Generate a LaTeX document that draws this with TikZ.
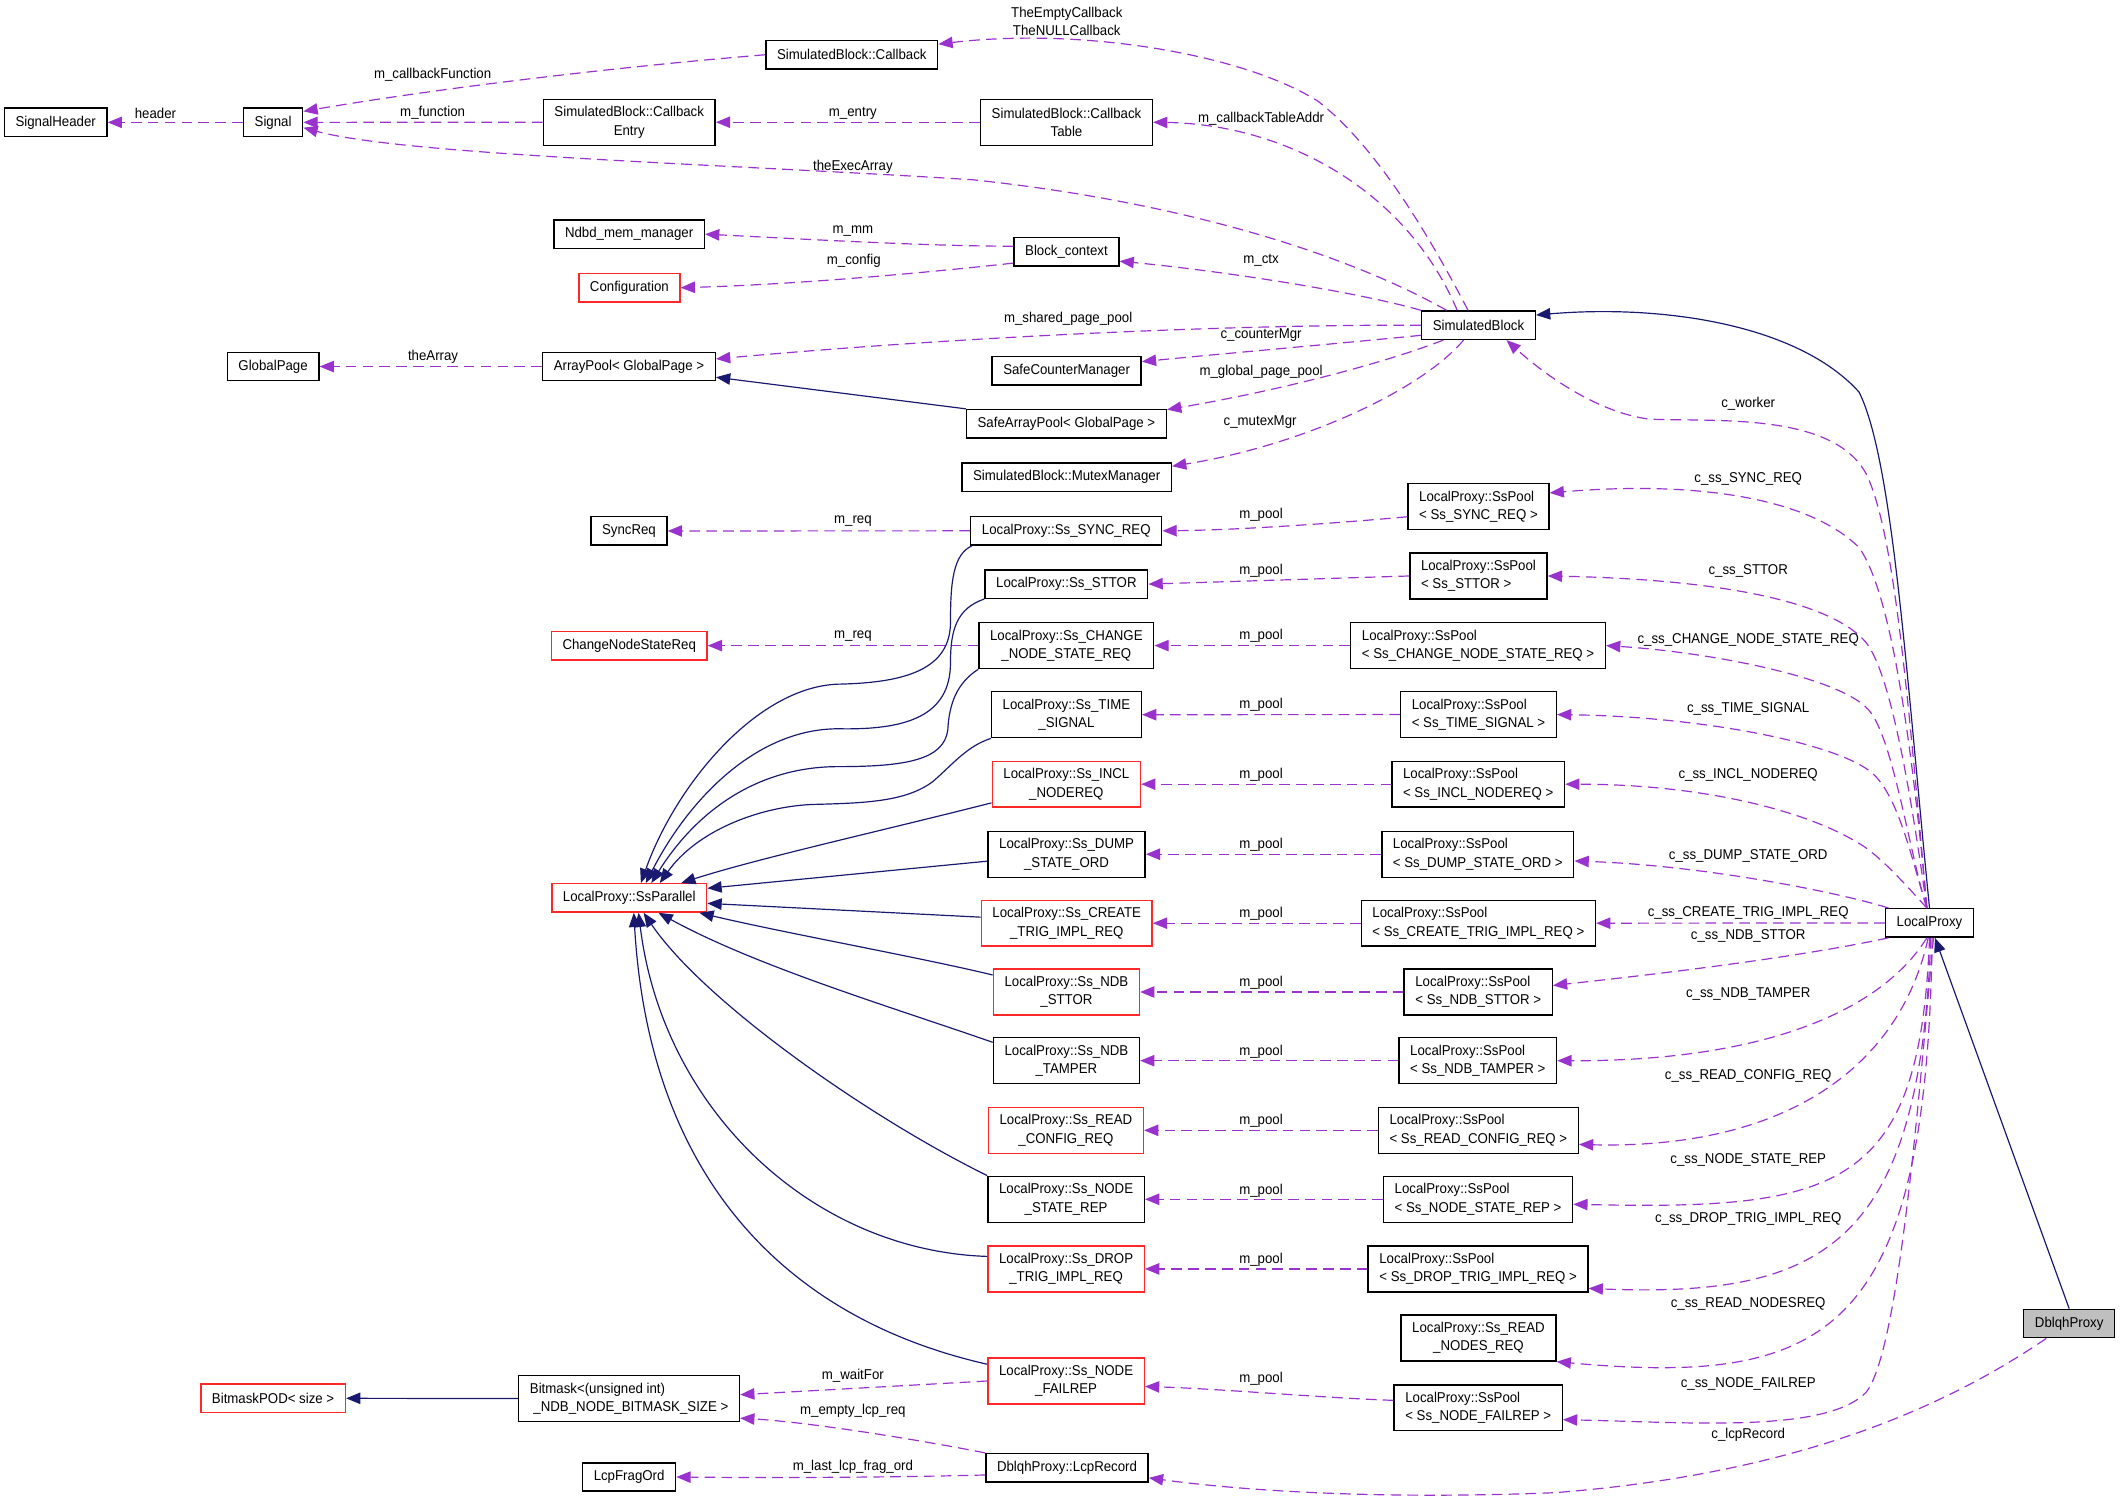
\documentclass[tikz,border=0pt]{standalone}
\usepackage{fontspec}
\setmainfont[FakeStretch=0.93]{Liberation Sans}
\usetikzlibrary{arrows.meta}
\definecolor{edgepurple}{RGB}{154,50,205}
\definecolor{edgenavy}{RGB}{25,25,112}
\definecolor{boxred}{RGB}{255,40,40}
\definecolor{boxgray}{RGB}{191,191,191}

\begin{document}
\begin{tikzpicture}[x=0.02cm, y=-0.02cm,
  cls/.style={draw=black, line width=0.6pt, fill=white, font=\fontsize{6}{7.7}\selectfont, inner xsep=0.165cm, inner ysep=0.1cm, minimum height=0.42cm},
  clsred/.style={cls, draw=boxred},
  dbl/.style={minimum height=0.68cm, align=center},
  dbll/.style={minimum height=0.68cm, align=left},
  member/.style={draw=edgepurple, line width=0.5pt, dash pattern=on 4.5pt off 2.6pt, -{Triangle[length=6pt,width=4.8pt]}},
  inherit/.style={draw=edgenavy, line width=0.5pt, -{Triangle[length=6pt,width=4.8pt]}},
  lbl/.style={font=\fontsize{6}{7.5}\selectfont, inner sep=0pt, align=center}]
\useasboundingbox (0,0) rectangle (1568,1110);

\node[cls] (sigHeader) at (41.2,90.5) {SignalHeader};
\node[cls] (signal) at (202,90.5) {Signal};
\node[cls, dbl] (cbEntry) at (465.4,90.4) {SimulatedBlock::Callback\\Entry};
\node[cls] (callback) at (630,40.5) {SimulatedBlock::Callback};
\node[cls, dbl] (cbTable) at (788.8,90.4) {SimulatedBlock::Callback\\Table};
\node[cls] (memMgr) at (465.3,173.2) {Ndbd\_mem\_manager};
\node[clsred] (config) at (465.5,212.8) {Configuration};
\node[cls] (blockCtx) at (788.75,186.25) {Block\_context};
\node[cls] (globalPage) at (202,271.1) {GlobalPage};
\node[cls] (arrayPool) at (465.2,271.1) {ArrayPool< GlobalPage >};
\node[cls] (safeCounter) at (788.9,274.3) {SafeCounterManager};
\node[cls] (safeArrayPool) at (788.75,313.4) {SafeArrayPool< GlobalPage >};
\node[cls] (mutexMgr) at (788.9,353) {SimulatedBlock::MutexManager};
\node[cls] (simBlock) at (1093.5,240.5) {SimulatedBlock};
\node[cls] (syncReq) at (465.2,392.7) {SyncReq};
\node[clsred] (chgReq) at (465.4,477.5) {ChangeNodeStateReq};
\node[clsred] (ssParallel) at (465.4,664.1) {LocalProxy::SsParallel};
\node[clsred] (bmPOD) at (202,1034.2) {BitmaskPOD< size >};
\node[cls, dbll] (bitmask) at (465.3,1034.4) {Bitmask<(unsigned int)\\\hspace{1.5pt}\_NDB\_NODE\_BITMASK\_SIZE >};
\node[cls] (lcpFragOrd) at (465.3,1092.4) {LcpFragOrd};
\node[cls] (lcpRecord) at (789.2,1085.6) {DblqhProxy::LcpRecord};
\node[cls] (localProxy) at (1427.1,682.6) {LocalProxy};
\node[cls, fill=boxgray] (dblqh) at (1530.4,978.9) {DblqhProxy};

\node[cls] (ssSync) at (788.6,392.6) {LocalProxy::Ss\_SYNC\_REQ};
\node[cls] (ssSttor) at (788.7,432) {LocalProxy::Ss\_STTOR};
\node[cls, dbl] (ssChg) at (788.7,477.5) {LocalProxy::Ss\_CHANGE\\\_NODE\_STATE\_REQ};
\node[cls, dbl] (ssTime) at (788.75,528.6) {LocalProxy::Ss\_TIME\\\_SIGNAL};
\node[clsred, dbl] (ssIncl) at (788.7,580) {LocalProxy::Ss\_INCL\\\_NODEREQ};
\node[cls, dbl] (ssDump) at (788.85,631.8) {LocalProxy::Ss\_DUMP\\\_STATE\_ORD};
\node[clsred, dbl] (ssCreate) at (789,682.8) {LocalProxy::Ss\_CREATE\\\_TRIG\_IMPL\_REQ};
\node[clsred, dbl] (ssNdbSttor) at (788.75,733.7) {LocalProxy::Ss\_NDB\\\_STTOR};
\node[cls, dbl] (ssNdbTamper) at (788.75,784.5) {LocalProxy::Ss\_NDB\\\_TAMPER};
\node[clsred, dbl] (ssReadCfg) at (788.35,836) {LocalProxy::Ss\_READ\\\_CONFIG\_REQ};
\node[cls, dbl] (ssNodeState) at (788.5,887) {LocalProxy::Ss\_NODE\\\_STATE\_REP};
\node[clsred, dbl] (ssDrop) at (788.5,938.5) {LocalProxy::Ss\_DROP\\\_TRIG\_IMPL\_REQ};
\node[clsred, dbl] (ssNodeFail) at (788.5,1021.4) {LocalProxy::Ss\_NODE\\\_FAILREP};

\node[cls, dbll] (poolSync) at (1093.5,374.8) {LocalProxy::SsPool\\< Ss\_SYNC\_REQ >};
\node[cls, dbll] (poolSttor) at (1093.5,426) {LocalProxy::SsPool\\< Ss\_STTOR >};
\node[cls, dbll] (poolChg) at (1093.2,477.5) {LocalProxy::SsPool\\< Ss\_CHANGE\_NODE\_STATE\_REQ >};
\node[cls, dbll] (poolTime) at (1093.5,528.5) {LocalProxy::SsPool\\< Ss\_TIME\_SIGNAL >};
\node[cls, dbll] (poolIncl) at (1093.3,580) {LocalProxy::SsPool\\< Ss\_INCL\_NODEREQ >};
\node[cls, dbll] (poolDump) at (1093,631.8) {LocalProxy::SsPool\\< Ss\_DUMP\_STATE\_ORD >};
\node[cls, dbll] (poolCreate) at (1093.4,682.8) {LocalProxy::SsPool\\< Ss\_CREATE\_TRIG\_IMPL\_REQ >};
\node[cls, dbll] (poolNdbSttor) at (1093.3,733.7) {LocalProxy::SsPool\\< Ss\_NDB\_STTOR >};
\node[cls, dbll] (poolNdbTamper) at (1093,784.5) {LocalProxy::SsPool\\< Ss\_NDB\_TAMPER >};
\node[cls, dbll] (poolReadCfg) at (1093.4,836) {LocalProxy::SsPool\\< Ss\_READ\_CONFIG\_REQ >};
\node[cls, dbll] (poolNodeState) at (1093.2,887) {LocalProxy::SsPool\\< Ss\_NODE\_STATE\_REP >};
\node[cls, dbll] (poolDrop) at (1093.2,938.5) {LocalProxy::SsPool\\< Ss\_DROP\_TRIG\_IMPL\_REQ >};
\node[cls, dbl] (readNodes) at (1093.5,989.6) {LocalProxy::Ss\_READ\\\_NODES\_REQ};
\node[cls, dbll] (poolNodeFail) at (1093.3,1041.2) {LocalProxy::SsPool\\< Ss\_NODE\_FAILREP >};

\draw[member] (signal.west) -- (sigHeader.east);
\draw[member] (callback.west) .. controls (450,50) and (320,66) .. (signal.20);
\draw[member] (cbEntry.west) -- (signal.east);
\draw[member] (simBlock.155) .. controls (1000,190) and (880,150) .. (720,133) .. controls (550,122) and (300,115) .. (signal.-10);
\draw[member] (cbTable.west) -- (cbEntry.east);
\draw[member] (simBlock.145) .. controls (1040,140) and (950,92) .. (cbTable.east);
\draw[member] (simBlock.125) .. controls (1060,180) and (1020,110) .. (975,75) .. controls (920,40) and (800,20) .. (callback.7);
\draw[member] (blockCtx.174) .. controls (680,182) and (580,176) .. (memMgr.east);
\draw[member] (blockCtx.192) .. controls (700,200) and (600,210) .. (config.east);
\draw[member] (simBlock.north west) .. controls (1000,215) and (900,200) .. (blockCtx.-10);
\draw[member] (simBlock.west) .. controls (900,240) and (700,250) .. (arrayPool.5);
\draw[member] (simBlock.190) .. controls (980,255) and (900,262) .. (safeCounter.7);
\draw[member] (simBlock.203) .. controls (1020,270) and (940,290) .. (safeArrayPool.8);
\draw[member] (simBlock.225) .. controls (1050,290) and (960,330) .. (mutexMgr.6);
\draw[member] (arrayPool.west) -- (globalPage.east);
\draw[inherit] (safeArrayPool.north west) -- (arrayPool.-7);

\draw[inherit] (localProxy.north) .. controls (1410,500) and (1400,340) .. (1375,290) .. controls (1330,240) and (1230,225) .. (simBlock.10);
\draw[member] (localProxy.100) .. controls (1410,500) and (1400,390) .. (1380,350) .. controls (1355,305) and (1270,312) .. (1220,310) .. controls (1180,305) and (1140,275) .. (simBlock.-28);
\draw[inherit] (dblqh.north) -- (localProxy.-70);

\draw[member] (localProxy.100) .. controls (1415,560) and (1400,440) .. (1375,405) .. controls (1340,370) and (1260,355) .. (poolSync.11);
\draw[member] (localProxy.100) .. controls (1415,600) and (1400,500) .. (1380,475) .. controls (1350,440) and (1250,428) .. (poolSttor.east);
\draw[member] (localProxy.100) .. controls (1412,630) and (1400,545) .. (1382,525) .. controls (1360,500) and (1260,482) .. (poolChg.east);
\draw[member] (localProxy.100) .. controls (1415,640) and (1405,590) .. (1385,572) .. controls (1360,550) and (1260,530) .. (poolTime.east);
\draw[member] (localProxy.100) .. controls (1410,655) and (1395,638) .. (1380,627) .. controls (1340,600) and (1260,580) .. (poolIncl.east);
\draw[member] (localProxy.160) .. controls (1360,660) and (1260,640) .. (poolDump.-4);
\draw[member] (localProxy.west) -- (poolCreate.east);
\draw[member] (localProxy.200) .. controls (1330,708) and (1230,720) .. (poolNdbSttor.5);
\draw[member] (localProxy.-100) .. controls (1390,750) and (1300,785) .. (poolNdbTamper.east);
\draw[member] (localProxy.-95) .. controls (1405,790) and (1320,850) .. (poolReadCfg.-8);
\draw[member] (localProxy.south) .. controls (1420,880) and (1360,895) .. (poolNodeState.-3);
\draw[member] (localProxy.-85) .. controls (1420,920) and (1350,960) .. (poolDrop.-10);
\draw[member] (localProxy.-80) .. controls (1425,990) and (1350,1025) .. (readNodes.south east);
\draw[member] (localProxy.-75) .. controls (1420,800) and (1405,1000) .. (1380,1030) .. controls (1350,1060) and (1250,1052) .. (poolNodeFail.-8);
\draw[member] (dblqh.213) .. controls (1440,1040) and (1330,1090) .. (1150,1104) .. controls (1000,1110) and (900,1100) .. (lcpRecord.-7);

\draw[member] (poolSync.188) .. controls (1000,386) and (920,392) .. (ssSync.east);
\foreach \s in {Sttor,Chg,Time,Incl,Dump,Create,NdbSttor,NdbTamper,ReadCfg,NodeState,Drop}
  \draw[member] (pool\s.west) -- (ss\s.east);
\draw[member] (poolNodeFail.175) .. controls (980,1034) and (900,1027) .. (ssNodeFail.-4);
\draw[member] (ssSync.west) -- (syncReq.east);
\draw[member] (ssChg.west) -- (chgReq.east);

\draw[inherit] (ssSync.-171) .. controls (705,410) and (703,430) .. (703,460) .. controls (703,495) and (670,505) .. (620,506) .. controls (560,508) and (500,580) .. (ssParallel.52);
\draw[inherit] (ssSttor.south west) .. controls (708,450) and (703,465) .. (703,490) .. controls (703,530) and (670,540) .. (620,539) .. controls (560,539) and (510,590) .. (ssParallel.42);
\draw[inherit] (ssChg.south west) .. controls (708,505) and (702,520) .. (701,540) .. controls (698,562) and (670,567) .. (620,567) .. controls (560,567) and (515,600) .. (ssParallel.34);
\draw[inherit] (ssTime.south west) .. controls (715,552) and (705,565) .. (690,578) .. controls (670,593) and (640,594) .. (600,595) .. controls (560,597) and (515,615) .. (ssParallel.26);
\draw[inherit] (ssIncl.194) .. controls (650,615) and (560,635) .. (ssParallel.16);
\draw[inherit] (ssDump.185) -- (ssParallel.7);
\draw[inherit] (ssCreate.176) -- (ssParallel.-4);
\draw[inherit] (ssNdbSttor.167) .. controls (680,708) and (580,690) .. (ssParallel.-12);
\draw[inherit] (ssNdbTamper.166) .. controls (660,745) and (560,715) .. (ssParallel.-27);
\draw[inherit] (ssNodeState.north west) .. controls (640,825) and (520,740) .. (ssParallel.-46);
\draw[inherit] (ssDrop.171) .. controls (600,925) and (490,820) .. (ssParallel.-58);
\draw[inherit] (ssNodeFail.168) .. controls (580,975) and (480,870) .. (ssParallel.-73);

\draw[member] (ssNodeFail.west) -- (bitmask.2);
\draw[member] (lcpRecord.north west) .. controls (680,1065) and (600,1052) .. (bitmask.-10);
\draw[member] (lcpRecord.185) .. controls (650,1093) and (560,1093) .. (lcpFragOrd.east);
\draw[inherit] (bitmask.west) -- (bmPOD.east);

\node[lbl] (lHeader) at (115,83.5) {header};
\node[lbl] (lCbFunc) at (320,55.5) {m\_callbackFunction};
\node[lbl] (lFunc) at (320,83.3) {m\_function};
\node[lbl] (lExec) at (630.8,123.3) {theExecArray};
\node[lbl] (lEntry) at (630.8,83.8) {m\_entry};
\node[lbl] (lCbTable) at (932.7,87.5) {m\_callbackTableAddr};
\node[lbl] (lCallbacks) at (789,16) {TheEmptyCallback\\TheNULLCallback};
\node[lbl] (lMm) at (630.8,171) {m\_mm};
\node[lbl] (lConfig) at (631.5,193) {m\_config};
\node[lbl] (lCtx) at (932.7,192.3) {m\_ctx};
\node[lbl] (lShared) at (790,236) {m\_shared\_page\_pool};
\node[lbl] (lCounter) at (932.7,247.8) {c\_counterMgr};
\node[lbl] (lGlobal) at (932.7,275) {m\_global\_page\_pool};
\node[lbl] (lMutex) at (932,312) {c\_mutexMgr};
\node[lbl] (lArray) at (320.3,263.8) {theArray};
\node[lbl] (lWorker) at (1293,298.8) {c\_worker};
\node[lbl] (lReqSync) at (630.8,385.4) {m\_req};
\node[lbl] (lReqChg) at (630.8,470.6) {m\_req};
\foreach \yy [count=\i] in {380.8,422,470.6,521.5,573.3,624.8,675.9,726.6,777.7,828.6,880.4,931.4,1020}
  \node[lbl] (lPool\i) at (932.7,\yy) {m\_pool};
\node[lbl] (lSsSync) at (1293,354) {c\_ss\_SYNC\_REQ};
\node[lbl] (lSsSttor) at (1293,422) {c\_ss\_STTOR};
\node[lbl] (lSsChg) at (1293,473) {c\_ss\_CHANGE\_NODE\_STATE\_REQ};
\node[lbl] (lSsTime) at (1293,524) {c\_ss\_TIME\_SIGNAL};
\node[lbl] (lSsIncl) at (1293,572.9) {c\_ss\_INCL\_NODEREQ};
\node[lbl] (lSsDump) at (1293,633.3) {c\_ss\_DUMP\_STATE\_ORD};
\node[lbl] (lSsCreate) at (1293,675.3) {c\_ss\_CREATE\_TRIG\_IMPL\_REQ};
\node[lbl] (lSsNdbSttor) at (1293,692.5) {c\_ss\_NDB\_STTOR};
\node[lbl] (lSsNdbTamper) at (1293,735.5) {c\_ss\_NDB\_TAMPER};
\node[lbl] (lSsReadCfg) at (1293,796) {c\_ss\_READ\_CONFIG\_REQ};
\node[lbl] (lSsNodeState) at (1293,858) {c\_ss\_NODE\_STATE\_REP};
\node[lbl] (lSsDrop) at (1293,901.8) {c\_ss\_DROP\_TRIG\_IMPL\_REQ};
\node[lbl] (lSsReadNodes) at (1293,964.5) {c\_ss\_READ\_NODESREQ};
\node[lbl] (lSsNodeFail) at (1293,1023.7) {c\_ss\_NODE\_FAILREP};
\node[lbl] (lLcpRecord) at (1293,1061.5) {c\_lcpRecord};
\node[lbl] (lWaitFor) at (630.8,1017.4) {m\_waitFor};
\node[lbl] (lEmptyLcp) at (630.8,1043.4) {m\_empty\_lcp\_req};
\node[lbl] (lLastLcp) at (630.8,1084.5) {m\_last\_lcp\_frag\_ord};
\end{tikzpicture}
\end{document}
